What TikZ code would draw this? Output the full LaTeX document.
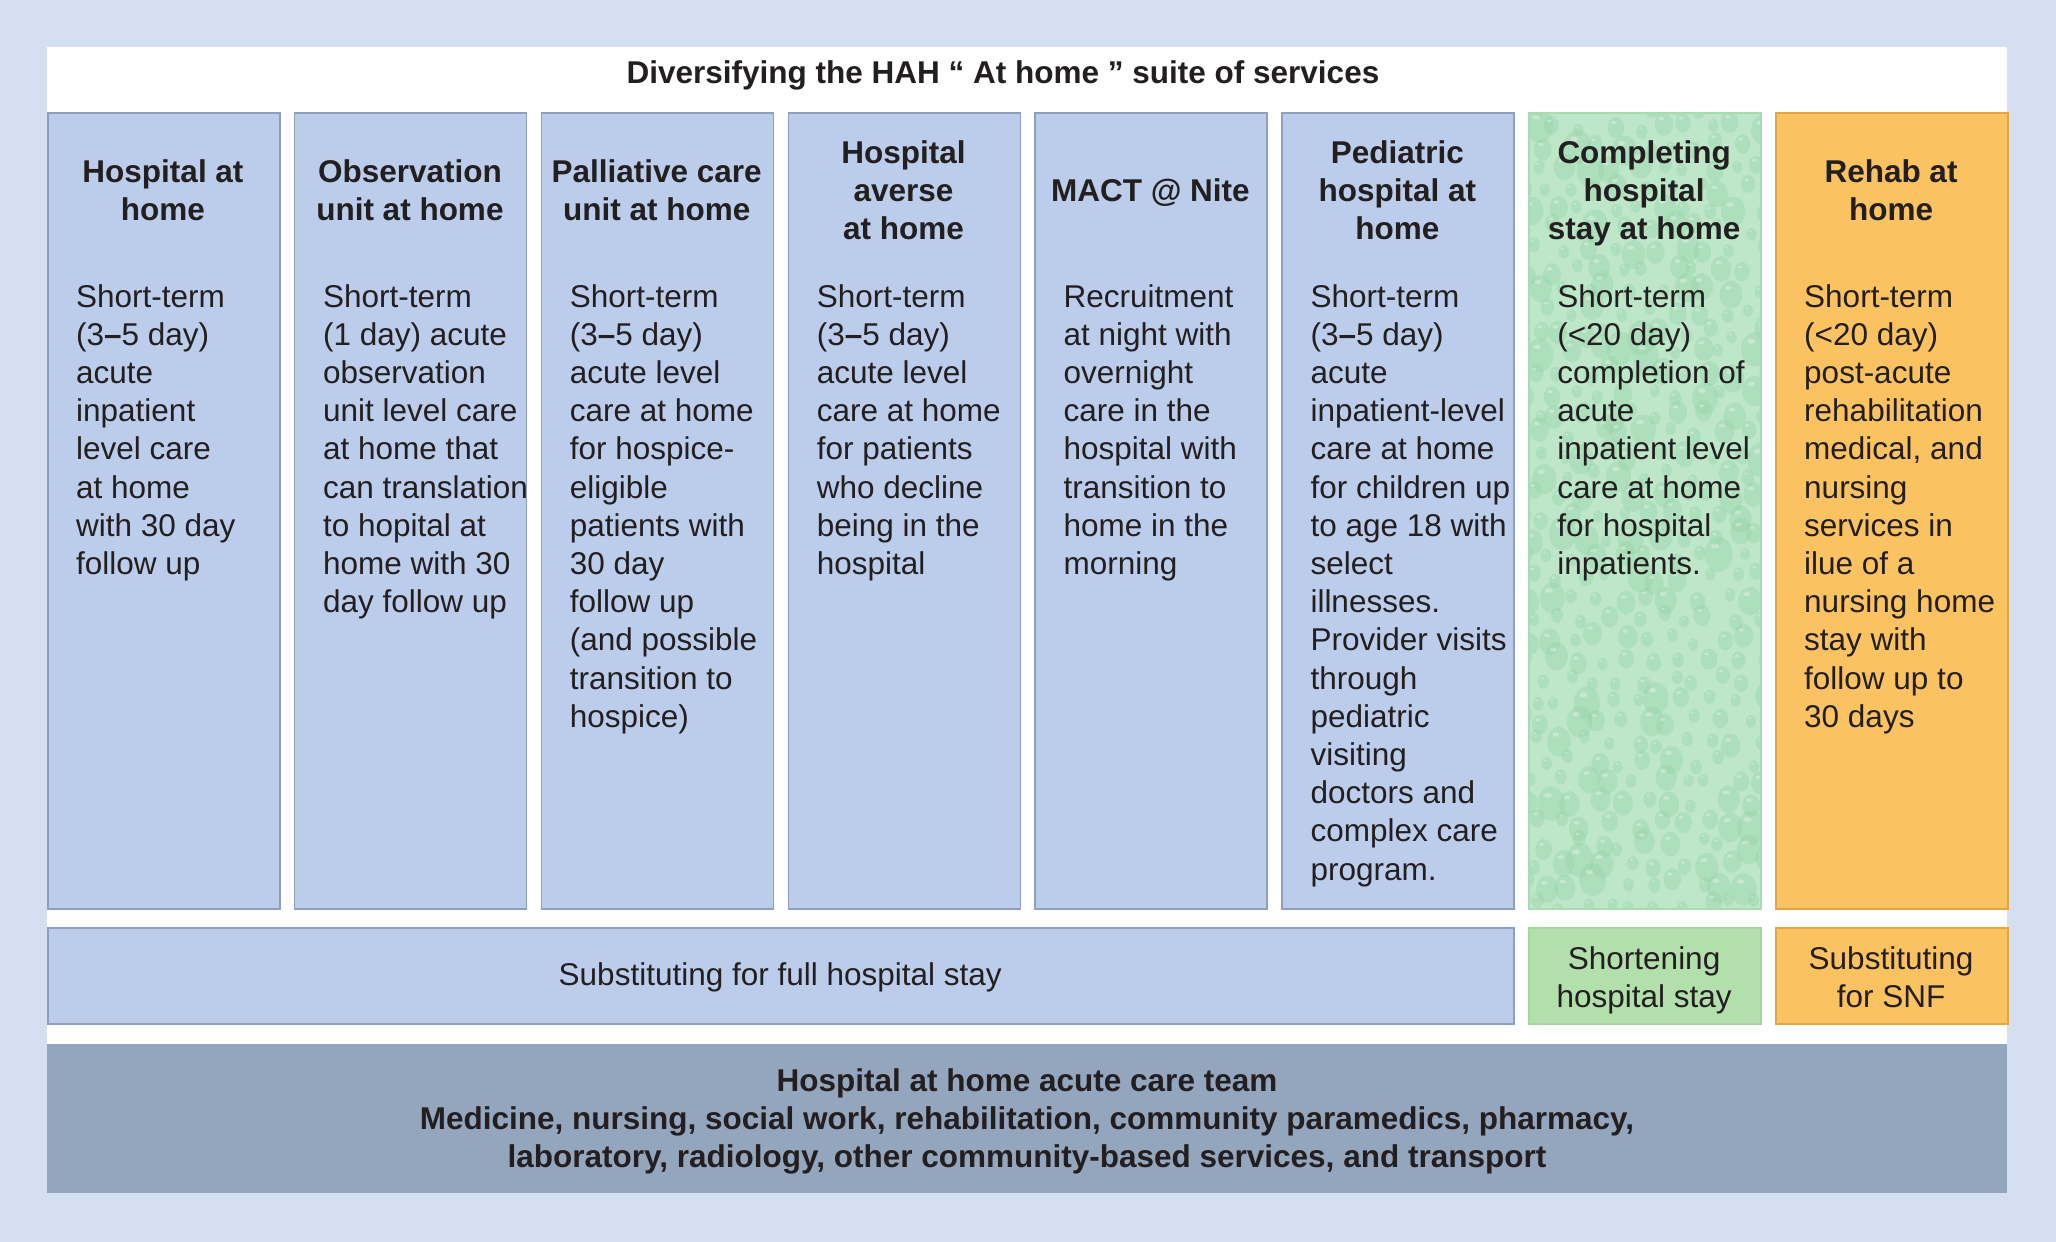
\documentclass[tikz,border=0pt]{standalone}
\usepackage{fontspec}
\setmainfont{Liberation Sans}
\definecolor{bgblue}{HTML}{D4DFF1}
\definecolor{colblue}{HTML}{BBCDEA}
\definecolor{colborder}{HTML}{8E9EBE}
\definecolor{band}{HTML}{94A5BE}
\definecolor{orangefill}{HTML}{FAC260}
\definecolor{orangeborder}{HTML}{E3A445}
\definecolor{greenbar}{HTML}{B3DFAC}
\definecolor{greenbarborder}{HTML}{A4D69E}
\definecolor{greenbase}{HTML}{BEE7C9}
\definecolor{greendrop}{HTML}{8ECFA2}
\definecolor{greenborder}{HTML}{A7DCB1}
\definecolor{txt}{HTML}{231F20}
\newcommand\Lrows[1]{\vtop{\baselineskip=38.2pt\lineskiplimit=-100pt\lineskip=0pt\halign{##\hfil\cr#1\crcr}}}
\newcommand\Crows[1]{\vtop{\baselineskip=38pt\lineskiplimit=-100pt\lineskip=0pt\halign{\hfil##\hfil\cr#1\crcr}}}
\tikzset{
  colbox/.style={draw=colborder, fill=colblue, line width=1.5pt, minimum width=232pt, minimum height=796pt, inner sep=0pt, anchor=north west},
  headtxt/.style={text=txt, inner sep=0pt, anchor=base, font=\fontsize{31.5}{38}\selectfont\bfseries},
  bodytxt/.style={text=txt, inner sep=0pt, anchor=base west, font=\fontsize{31.5}{38}\selectfont},
  bartxt/.style={text=txt, inner sep=0pt, anchor=base, font=\fontsize{31.5}{38}\selectfont},
  barbox/.style={line width=1.5pt, minimum height=96pt, inner sep=0pt, anchor=north west},
}
\begin{document}
\begin{tikzpicture}[x=1pt,y=-1pt]
\useasboundingbox (0,0) rectangle (2056,1242);
\fill[bgblue] (0,0) rectangle (2056,1242);
\fill[white] (47,47) rectangle (2007,1193);

\node[headtxt] (title) at (1003,83) {Diversifying the HAH “ At home ” suite of services};

% columns
\node[colbox] (c1) at (47,112) {};
\node[colbox] (c2) at (293.9,112) {};
\node[colbox] (c3) at (540.7,112) {};
\node[colbox] (c4) at (787.6,112) {};
\node[colbox] (c5) at (1034.4,112) {};
\node[colbox] (c6) at (1281.3,112) {};
\begin{scope}
  \clip (1528.1,112) rectangle (1760.1,908);
  \fill[greenbase] (1528.1,112) rectangle (1760.1,908);
  \pgfmathsetseed{1234}
  \foreach \row in {0,...,39}{
    \foreach \col in {0,...,9}{
      \pgfmathsetmacro\dx{1522+\col*25+12*mod(\row,2)+8*rand}
      \pgfmathsetmacro\dy{106+\row*20.5+6*rand}
      \pgfmathsetmacro\q{rnd}
      \pgfmathsetmacro\rr{5+9*\q*\q}
      \fill[greendrop, opacity=0.33] (\dx,\dy) ellipse [x radius=\rr, y radius=1.25*\rr];
      \fill[white, opacity=0.3] (\dx-0.25*\rr,\dy-0.6*\rr) ellipse [x radius=0.3*\rr, y radius=0.18*\rr];
    }
  }
\end{scope}
\node[colbox, fill=none, draw=greenborder] (c7) at (1528.1,112) {};
\node[colbox, fill=orangefill, draw=orangeborder] (c8) at (1775,112) {};

% headings
\node[headtxt] (h1) at (163,182) {\Crows{Hospital at\cr home}};
\node[headtxt] (h2) at (409.9,182) {\Crows{Observation\cr unit at home}};
\node[headtxt] (h3) at (656.7,182) {\Crows{Palliative care\cr unit at home}};
\node[headtxt] (h4) at (903.6,163) {\Crows{Hospital\cr averse\cr at home}};
\node[headtxt] (h5) at (1150.4,201) {\Crows{MACT @ Nite}};
\node[headtxt] (h6) at (1397.3,163) {\Crows{Pediatric\cr hospital at\cr home}};
\node[headtxt] (h7) at (1644.1,163) {\Crows{Completing\cr hospital\cr stay at home}};
\node[headtxt] (h8) at (1891,182) {\Crows{Rehab at\cr home}};

% bodies
\node[bodytxt] (b1) at (76,307) {\Lrows{Short-term\cr (3\textbf{--}5 day)\cr acute\cr inpatient\cr level care\cr at home\cr with 30 day\cr follow up}};
\node[bodytxt] (b2) at (322.9,307) {\Lrows{Short-term\cr (1 day) acute\cr observation\cr unit level care\cr at home that\cr can translation\cr to hopital at\cr home with 30\cr day follow up}};
\node[bodytxt] (b3) at (569.7,307) {\Lrows{Short-term\cr (3\textbf{--}5 day)\cr acute level\cr care at home\cr for hospice-\cr eligible\cr patients with\cr 30 day\cr follow up\cr (and possible\cr transition to\cr hospice)}};
\node[bodytxt] (b4) at (816.6,307) {\Lrows{Short-term\cr (3\textbf{--}5 day)\cr acute level\cr care at home\cr for patients\cr who decline\cr being in the\cr hospital}};
\node[bodytxt] (b5) at (1063.4,307) {\Lrows{Recruitment\cr at night with\cr overnight\cr care in the\cr hospital with\cr transition to\cr home in the\cr morning}};
\node[bodytxt] (b6) at (1310.3,307) {\Lrows{Short-term\cr (3\textbf{--}5 day)\cr acute\cr inpatient-level\cr care at home\cr for children up\cr to age 18 with\cr select\cr illnesses.\cr Provider visits\cr through\cr pediatric\cr visiting\cr doctors and\cr complex care\cr program.}};
\node[bodytxt] (b7) at (1557.1,307) {\Lrows{Short-term\cr (<20 day)\cr completion of\cr acute\cr inpatient level\cr care at home\cr for hospital\cr inpatients.}};
\node[bodytxt] (b8) at (1804,307) {\Lrows{Short-term\cr (<20 day)\cr post-acute\cr rehabilitation\cr medical, and\cr nursing\cr services in\cr ilue of a\cr nursing home\cr stay with\cr follow up to\cr 30 days}};

% bottom bars
\node[barbox, fill=colblue, draw=colborder, minimum width=1466.3pt] (s1) at (47,927) {};
\node[barbox, fill=greenbar, draw=greenbarborder, minimum width=232pt] (s2) at (1528.1,927) {};
\node[barbox, fill=orangefill, draw=orangeborder, minimum width=232pt] (s3) at (1775,927) {};
\node[bartxt] (s1t) at (780.2,985) {Substituting for full hospital stay};
\node[bartxt] (s2t) at (1644.1,969) {\Crows{Shortening\cr hospital stay}};
\node[bartxt] (s3t) at (1891,969) {\Crows{Substituting\cr for SNF}};

% team band
\node[fill=band, minimum width=1960pt, minimum height=149pt, inner sep=0pt, anchor=north west] (team) at (47,1044) {};
\node[headtxt] (teamt) at (1027,1091.5) {\Crows{Hospital at home acute care team\cr Medicine, nursing, social work, rehabilitation, community paramedics, pharmacy,\cr laboratory, radiology, other community-based services, and transport}};
\end{tikzpicture}
\end{document}
